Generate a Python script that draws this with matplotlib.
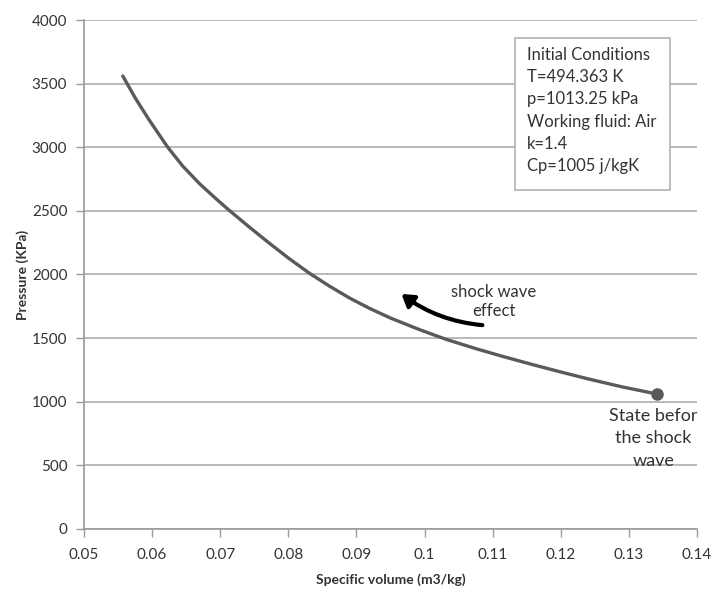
import matplotlib.pyplot as plt
from matplotlib.patches import FancyArrowPatch, Rectangle

plt.rcParams['font.family'] = ['Lato', 'DejaVu Sans']

# specific volume (m3/kg) and pressure (kPa) along the compression curve
volume = [0.0557, 0.0575, 0.0595, 0.0623, 0.0645, 0.0670, 0.0695, 0.0712,
          0.0740, 0.0770, 0.0800, 0.0831, 0.0860, 0.0890, 0.0920, 0.0950,
          0.0993, 0.1032, 0.1075, 0.1115, 0.1160, 0.1200, 0.1240, 0.1290,
          0.1341]
pressure = [3560, 3390, 3220, 3000, 2852, 2712, 2590, 2510,
            2385, 2255, 2130, 2010, 1910, 1815, 1732, 1658,
            1566, 1490, 1418, 1356, 1290, 1234, 1180, 1117,
            1061]

x_ticks = [0.05, 0.06, 0.07, 0.08, 0.09, 0.10, 0.11, 0.12, 0.13, 0.14]
x_labels = ['0.05', '0.06', '0.07', '0.08', '0.09', '0.1', '0.11', '0.12', '0.13', '0.14']
y_ticks = [0, 500, 1000, 1500, 2000, 2500, 3000, 3500, 4000]

conditions = ['Initial Conditions', 'T=494.363 K', 'p=1013.25 kPa',
              'Working fluid: Air', 'k=1.4', 'Cp=1005 j/kgK']

fig = plt.figure(figsize=(7.14, 5.9), dpi=100)
ax = fig.add_axes([0.1176, 0.1034, 0.8585, 0.8627])

ax.plot(volume, pressure, color='#5a5a5a', lw=2.4, solid_capstyle='round',
        solid_joinstyle='round', zorder=3)
ax.plot(volume[-1], pressure[-1], 'o', color='#5a5a5a', ms=8, zorder=4)

ax.set_xlim(0.05, 0.14)
ax.set_ylim(0, 4000)
ax.set_xticks(x_ticks)
ax.set_xticklabels(x_labels)
ax.set_yticks(y_ticks)
ax.yaxis.grid(True, color='#b3b3b3', lw=1.3)
ax.set_axisbelow(True)
for side in ['top', 'right']:
    ax.spines[side].set_visible(False)
for side in ['left', 'bottom']:
    ax.spines[side].set_color('#9a9a9a')
    ax.spines[side].set_linewidth(1.2)
ax.tick_params(axis='both', colors='#9a9a9a', length=6, width=1.0,
               labelsize=11, labelcolor='#333333')
ax.tick_params(axis='x', pad=8)
ax.tick_params(axis='y', pad=6)

ax.set_xlabel('Specific volume (m3/kg)', fontsize=10, fontweight='bold',
              color='#333333', labelpad=8)
ax.set_ylabel('Pressure (KPa)', fontsize=10, fontweight='bold',
              color='#333333', labelpad=2)

# initial conditions box
ax.add_patch(Rectangle((0.703, 0.666), 0.253, 0.299, transform=ax.transAxes,
                       fc='white', ec='#b3b3b3', lw=1.2, zorder=5))
ax.text(0.723, 0.947, '\n'.join(conditions), transform=ax.transAxes,
        ha='left', va='top', fontsize=12, color='#333333', linespacing=1.48,
        zorder=6)

# shock wave arrow and label
arrow = FancyArrowPatch((0.1089, 1600), (0.0963, 1860),
                        connectionstyle='arc3,rad=-0.15',
                        arrowstyle='-|>,head_length=7,head_width=4.5',
                        color='black', lw=3, zorder=5)
ax.add_patch(arrow)
ax.text(0.1102, 1790, 'shock wave\neffect', ha='center', va='center',
        fontsize=12, color='#333333', linespacing=1.2)

ax.text(0.1336, 715, 'State befor\nthe shock\nwave', ha='center', va='center',
        fontsize=13, color='#333333', linespacing=1.5, zorder=5)

fig.savefig('out.png', dpi=100, facecolor='white')
